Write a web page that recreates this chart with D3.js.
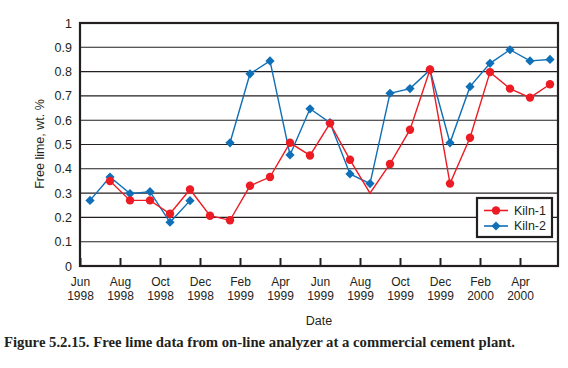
<!DOCTYPE html>
<html>
<head>
<meta charset="utf-8">
<script src="https://cdn.jsdelivr.net/npm/d3@7"></script>
<style>
  body { margin: 0; background: #fff; }
  svg { display: block; }
  text { font-family: "Liberation Sans", Arial, sans-serif; fill: #231f20; }
</style>
</head>
<body>
<svg width="568" height="368"></svg>
<script>
// months counted from Jun 1998, points sit mid-month
var tickMonths = ["Jun", "Aug", "Oct", "Dec", "Feb", "Apr", "Jun", "Aug", "Oct", "Dec", "Feb", "Apr"];
var tickYears = ["1998", "1998", "1998", "1998", "1999", "1999", "1999", "1999", "1999", "1999", "2000", "2000"];
var kiln1 = [null, 0.35, 0.27, 0.27, 0.215, 0.315, 0.207, 0.188, 0.33, 0.366, 0.507, 0.455,
             0.587, 0.437, 0.30, 0.42, 0.561, 0.809, 0.339, 0.528, 0.798, 0.73, 0.693, 0.748];
var kiln2 = [0.27, 0.366, 0.298, 0.306, 0.18, 0.269, null, 0.507, 0.791, 0.844, 0.457, 0.647,
             0.59, 0.379, 0.339, 0.711, 0.73, 0.807, 0.507, 0.738, 0.834, 0.89, 0.844, 0.85];
var kiln1NoMarker = [14];
var yTicks = [0, 0.1, 0.2, 0.3, 0.4, 0.5, 0.6, 0.7, 0.8, 0.9, 1];

var red = "#ed1c24", blue = "#0f6fb7";

var svg = d3.select("svg"),
	margin = {top: 23, right: 10, bottom: 102, left: 80},
	width = 558 - margin.left,
	height = 266 - margin.top,
	g = svg.append("g").attr("transform", "translate(" + margin.left + "," + margin.top + ")");

var x = d3.scaleLinear().domain([0, 23.9]).range([0, width]),
	y = d3.scaleLinear().domain([0, 1]).range([height, 0]);

// gridlines
g.append("g")
	.selectAll("line")
	.data(yTicks.slice(1, -1))
	.enter().append("line")
	  .attr("x1", 0).attr("x2", width)
	  .attr("y1", function(d) { return y(d); })
	  .attr("y2", function(d) { return y(d); })
	  .attr("stroke", "#231f20")
	  .attr("stroke-width", 1.1);

// y axis labels
var yAxis = g.append("g")
	.call(d3.axisLeft(y).tickValues(yTicks).tickSize(0).tickPadding(8).tickFormat(d3.format("")));
yAxis.select(".domain").remove();
yAxis.selectAll("text").style("font-size", "12.5px").style("font-family", "Liberation Sans, Arial, sans-serif").attr("fill", "#231f20");

// x axis: inward ticks every 2 months
var xAxis = g.append("g")
	.attr("transform", "translate(0," + height + ")")
	.call(d3.axisBottom(x).tickValues(d3.range(0, 23, 2)).tickSizeInner(-8).tickSizeOuter(0).tickFormat(""));
xAxis.select(".domain").remove();
xAxis.selectAll("line").attr("stroke", "#231f20").attr("stroke-width", 2);

var xl = xAxis.selectAll(".tick").append("text")
	.attr("text-anchor", "middle")
	.style("font-size", "12px")
	.attr("fill", "#231f20");
xl.append("tspan").attr("x", 0).attr("y", 20).text(function(d, i) { return tickMonths[i]; });
xl.append("tspan").attr("x", 0).attr("y", 34).text(function(d, i) { return tickYears[i]; });

// frame
g.append("rect")
	.attr("width", width).attr("height", height)
	.attr("fill", "none")
	.attr("stroke", "#231f20")
	.attr("stroke-width", 2.2);

// axis titles
svg.append("text")
	.attr("transform", "translate(44,144) rotate(-90)")
	.attr("text-anchor", "middle")
	.style("font-size", "12.5px")
	.text("Free lime, wt. %");

svg.append("text")
	.attr("x", margin.left + width / 2)
	.attr("y", 325)
	.attr("text-anchor", "middle")
	.style("font-size", "12.5px")
	.text("Date");

svg.append("text")
	.attr("x", 4)
	.attr("y", 347)
	.style("font-family", "'Liberation Serif', 'Times New Roman', serif")
	.style("font-weight", "bold")
	.style("font-size", "14.5px")
	.attr("textLength", 511)
	.attr("lengthAdjust", "spacingAndGlyphs")
	.text("Figure 5.2.15.  Free lime data from on-line analyzer at a commercial cement plant.");

// series
var line = d3.line()
	.defined(function(d) { return d != null; })
	.x(function(d, i) { return x(i + 0.5); })
	.y(function(d) { return y(d); });

function diamond(s) {
	return "M0," + (-s) + "L" + s + ",0L0," + s + "L" + (-s) + ",0Z";
}

g.append("path")
	.attr("d", line(kiln2))
	.attr("fill", "none")
	.attr("stroke", blue)
	.attr("stroke-width", 1.4);

g.selectAll(".k2")
	.data(kiln2.map(function(v, i) { return {i: i, v: v}; }).filter(function(d) { return d.v != null; }))
	.enter().append("path")
	  .attr("class", "k2")
	  .attr("transform", function(d) { return "translate(" + x(d.i + 0.5) + "," + y(d.v) + ")"; })
	  .attr("d", diamond(4.6))
	  .attr("fill", blue);

g.append("path")
	.attr("d", line(kiln1))
	.attr("fill", "none")
	.attr("stroke", red)
	.attr("stroke-width", 1.4);

g.selectAll(".k1")
	.data(kiln1.map(function(v, i) { return {i: i, v: v}; })
		.filter(function(d) { return d.v != null && kiln1NoMarker.indexOf(d.i) < 0; }))
	.enter().append("circle")
	  .attr("class", "k1")
	  .attr("cx", function(d) { return x(d.i + 0.5); })
	  .attr("cy", function(d) { return y(d.v); })
	  .attr("r", 4.2)
	  .attr("fill", red);

// legend
var legend = svg.append("g").attr("transform", "translate(477,198)");
legend.append("rect")
	.attr("width", 75).attr("height", 39)
	.attr("fill", "#fff")
	.attr("stroke", "#231f20")
	.attr("stroke-width", 2.2);

var items = [{name: "Kiln-1", color: red, shape: "circle"}, {name: "Kiln-2", color: blue, shape: "diamond"}];
var li = legend.selectAll(".li")
	.data(items)
	.enter().append("g")
	  .attr("transform", function(d, i) { return "translate(0," + (12.5 + i * 15.5) + ")"; });
li.append("line")
	.attr("x1", 7).attr("x2", 31)
	.attr("stroke", function(d) { return d.color; })
	.attr("stroke-width", 1.6);
li.append("path")
	.attr("transform", "translate(19,0)")
	.attr("d", function(d) { return d.shape == "circle" ? d3.symbol(d3.symbolCircle, 55)() : diamond(4.6); })
	.attr("fill", function(d) { return d.color; });
li.append("text")
	.attr("x", 37)
	.attr("dy", "0.35em")
	.style("font-size", "12.5px")
	.text(function(d) { return d.name; });
</script>
</body>
</html>
